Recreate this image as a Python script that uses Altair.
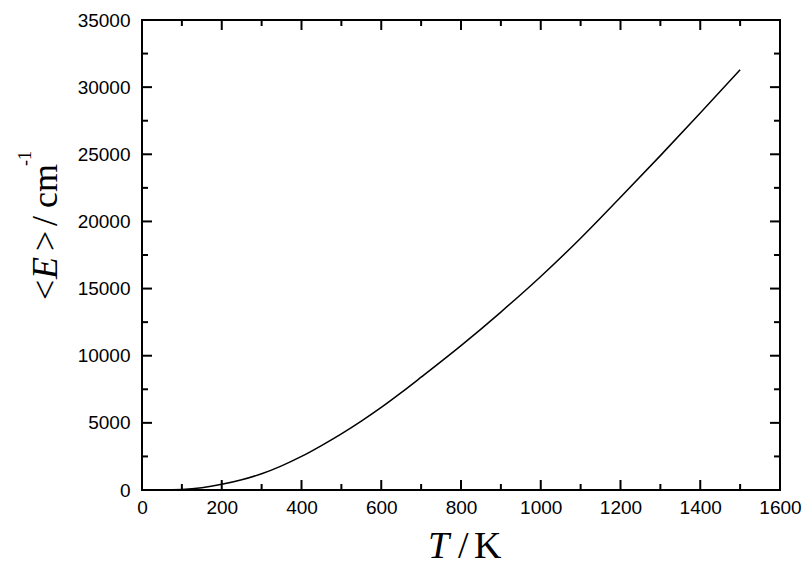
import altair as alt
import pandas as pd

# Curve values
T_K = [0, 50, 100, 150, 200, 250, 300, 350, 400, 450, 500, 550, 600, 650, 700,
       800, 900, 1000, 1100, 1200, 1300, 1400, 1500]
E_cm = [0, 3, 40, 170, 420, 760, 1210, 1800, 2500, 3310, 4180, 5130, 6150, 7250, 8400,
        10750, 13250, 15900, 18750, 21800, 24900, 28080, 31300]

x_major = [0, 200, 400, 600, 800, 1000, 1200, 1400, 1600]
x_minor = [100, 300, 500, 700, 900, 1100, 1300, 1500]
y_major = [0, 5000, 10000, 15000, 20000, 25000, 30000, 35000]
y_minor = [2500, 7500, 12500, 17500, 22500, 27500, 32500]

W, H = 638, 470
MAJ, MIN = 10, 6
xs = alt.Scale(domain=[0, 1600], nice=False, zero=False)
ys = alt.Scale(domain=[0, 35000], nice=False, zero=False)

lab = dict(domain=False, ticks=False, grid=False, title=None,
           labelFont="Liberation Sans", labelFontSize=19, labelColor="black",
           labelOverlap=False, labelFlush=False, format="d")
xaxis = alt.Axis(values=x_major, labelPadding=8, **lab)
yaxis = alt.Axis(values=y_major, labelPadding=12, **lab)

curve = alt.Chart(pd.DataFrame({"T": T_K, "E": E_cm})).mark_line(
    color="black", strokeWidth=1.5, interpolate="monotone"
).encode(
    x=alt.X("T:Q", scale=xs, axis=xaxis),
    y=alt.Y("E:Q", scale=ys, axis=yaxis),
)


def xticks(vals, length, top):
    c = alt.Chart(pd.DataFrame({"T": vals})).mark_rule(color="black", strokeWidth=2)
    xe = alt.X("T:Q", scale=xs, axis=xaxis)
    if top:
        return c.encode(x=xe, y=alt.value(0), y2=alt.value(length))
    return c.encode(x=xe, y=alt.value(H), y2=alt.value(H - length))


def yticks(vals, length, right):
    c = alt.Chart(pd.DataFrame({"E": vals})).mark_rule(color="black", strokeWidth=2)
    ye = alt.Y("E:Q", scale=ys, axis=yaxis)
    if right:
        return c.encode(y=ye, x=alt.value(W), x2=alt.value(W - length))
    return c.encode(y=ye, x=alt.value(0), x2=alt.value(length))


def txt(s, x, y, size=36, italic=False, angle=0):
    kw = dict(text=s, font="Liberation Serif", fontSize=size, color="black",
              align="left", baseline="alphabetic")
    if italic:
        kw["fontStyle"] = "italic"
    if angle:
        kw["angle"] = angle
    return alt.Chart(alt.Data(values=[{}])).mark_text(**kw).encode(
        x=alt.value(x), y=alt.value(y))


titles = [
    # y title, reading upward
    txt("<", -85, 280, angle=270),
    txt("E", -85, 259, italic=True, angle=270),
    txt(">", -85, 231, angle=270),
    txt("/", -85, 206, angle=270),
    txt("cm", -85, 188, angle=270),
    txt("-1", -111, 146, size=18, angle=270),
    # x title
    txt("T", 286, 538, size=38, italic=True),
    txt("/", 316, 538, size=38),
    txt("K", 332, 538, size=38),
]

chart = alt.layer(
    curve,
    xticks(x_major, MAJ, False), xticks(x_minor, MIN, False),
    xticks(x_major, MAJ, True), xticks(x_minor, MIN, True),
    yticks(y_major, MAJ, False), yticks(y_minor, MIN, False),
    yticks(y_major, MAJ, True), yticks(y_minor, MIN, True),
    *titles,
).properties(
    width=W, height=H,
    autosize=alt.AutoSizeParams(type="none"),
    padding={"left": 142, "top": 20, "right": 23, "bottom": 77},
    background="white",
).configure_view(stroke="black", strokeWidth=2)

chart.save("out.html", embed_options={"renderer": "svg", "actions": False})
